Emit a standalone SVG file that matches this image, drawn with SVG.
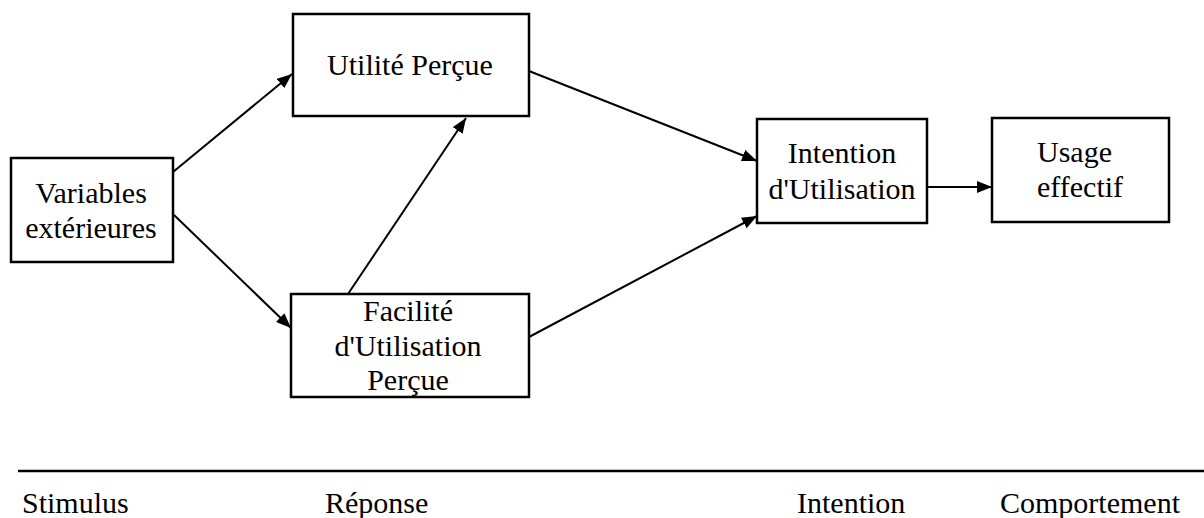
<svg xmlns="http://www.w3.org/2000/svg" width="1204" height="518" viewBox="0 0 1204 518">
<style>
.box{fill:#fff;stroke:#000;stroke-width:2.5}
.t{font-family:"Liberation Serif","Times New Roman",serif;font-size:30px;fill:#000}
.c{text-anchor:middle}
.edge{stroke:#000;stroke-width:2;fill:none;marker-end:url(#ah)}
</style>
<defs>
<marker id="ah" markerUnits="userSpaceOnUse" markerWidth="16" markerHeight="12" refX="15" refY="6" orient="auto">
<path d="M0,0 L15,6 L0,12 z" fill="#000"/>
</marker>
</defs>
<rect width="1204" height="518" fill="#fff"/>
<g id="connectors">
<line class="edge" x1="173" y1="172" x2="292" y2="74"/>
<line class="edge" x1="174" y1="215" x2="291" y2="328"/>
<line class="edge" x1="348" y1="294" x2="466" y2="118"/>
<line class="edge" x1="529" y1="71" x2="757" y2="161"/>
<line class="edge" x1="529" y1="337" x2="757" y2="216"/>
<line class="edge" x1="927" y1="187" x2="992" y2="187"/>
</g>
<g id="variables">
<rect class="box" x="11" y="158" width="162" height="104"/>
<text class="t c" x="91" y="203">Variables</text>
<text class="t c" x="91" y="238">extérieures</text>
</g>
<g id="utilite">
<rect class="box" x="293" y="14" width="236" height="102"/>
<text class="t c" x="410" y="75">Utilité Perçue</text>
</g>
<g id="facilite">
<rect class="box" x="291" y="294" width="238" height="103"/>
<text class="t c" x="408" y="321">Facilité</text>
<text class="t c" x="408" y="356">d'Utilisation</text>
<text class="t c" x="408" y="390">Perçue</text>
</g>
<g id="intention">
<rect class="box" x="757" y="119" width="170" height="104"/>
<text class="t c" x="842" y="163">Intention</text>
<text class="t c" x="842" y="199">d'Utilisation</text>
</g>
<g id="usage">
<rect class="box" x="992" y="118" width="177" height="104"/>
<text class="t" x="1037" y="162">Usage</text>
<text class="t" x="1037" y="197">effectif</text>
</g>
<g id="footer">
<line x1="18" y1="471" x2="1204" y2="471" stroke="#000" stroke-width="2.5"/>
<text class="t" x="22" y="513">Stimulus</text>
<text class="t" x="325" y="513">Réponse</text>
<text class="t" x="797" y="513">Intention</text>
<text class="t" x="1000" y="513">Comportement</text>
</g>
</svg>
